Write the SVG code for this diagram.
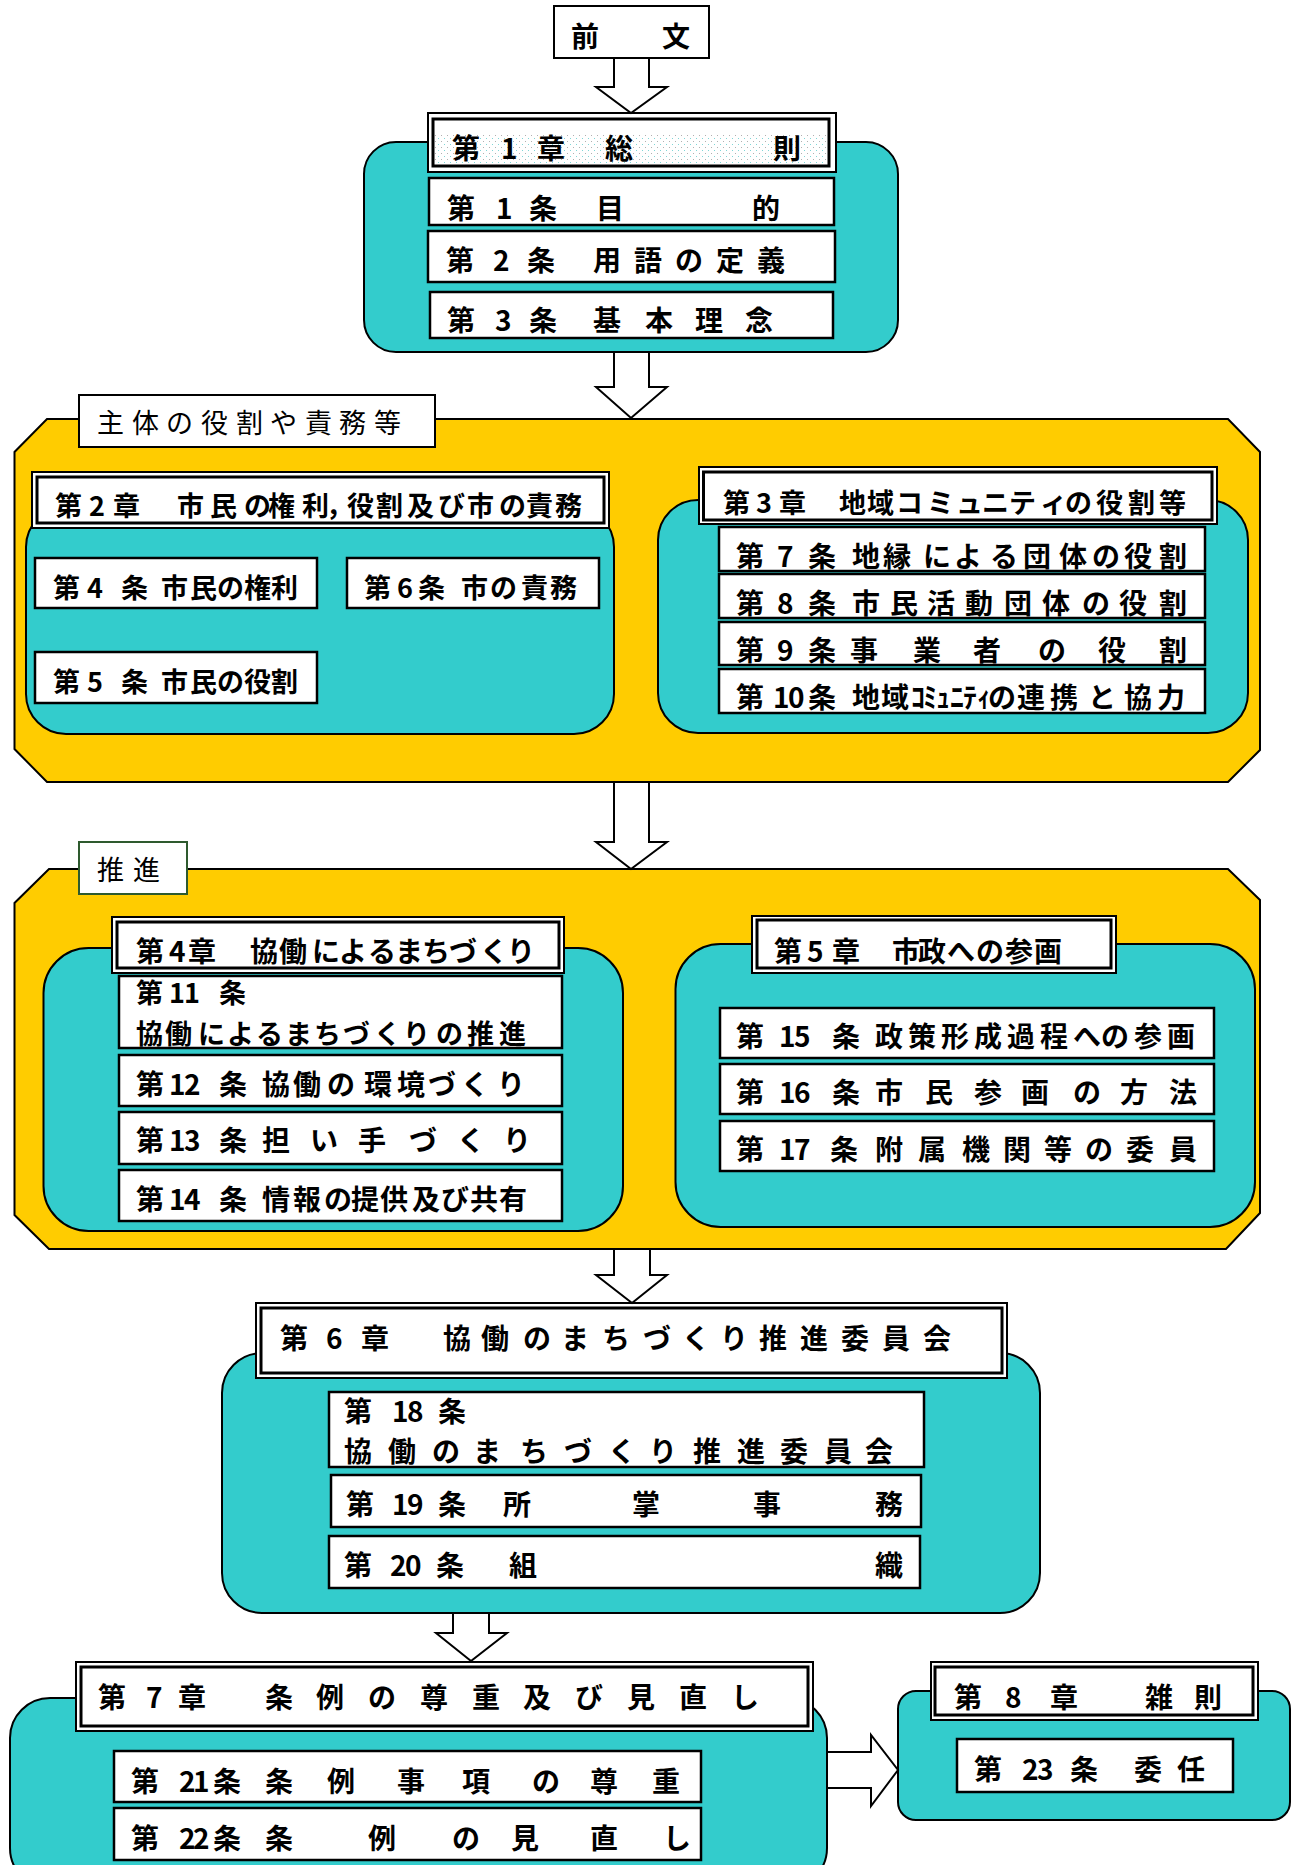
<svg xmlns="http://www.w3.org/2000/svg" width="1295" height="1865" viewBox="0 0 1295 1865">
<style>
.teal{fill:#33CCCC;stroke:#000;stroke-width:2}
.yel{fill:#FFCC00;stroke:#000;stroke-width:2}
.box{fill:#fff;stroke:#000;stroke-width:2.5}
.ho{fill:#fff;stroke:#000;stroke-width:2}
.hi{fill:none;stroke:#000;stroke-width:3}
.lb{fill:#fff;stroke:#000;stroke-width:2}
.arr{fill:#fff;stroke:#000;stroke-width:2}
text{font-family:"Noto Sans CJK JP","Noto Sans CJK SC",sans-serif;fill:#000}
.t{font-weight:700;font-size:28px}
.s{font-weight:700;font-size:27px}
.l{font-weight:400;font-size:27px}
</style>
<defs>
<pattern id="dots" width="6" height="6" patternUnits="userSpaceOnUse">
<rect x="0" y="0" width="1" height="1" fill="#7fd6d6"/>
<rect x="3" y="3" width="1" height="1" fill="#b0b0b0"/>
</pattern>
</defs>
<rect width="1295" height="1865" fill="#fff"/>

<g id="preamble">
<rect class="box" x="554" y="6" width="155" height="52" style="stroke-width:2"/>
<text class="t" x="571 600 662" y="47">前 文</text>
</g>

<g id="chapter1">
<rect class="teal" x="364" y="142" width="534" height="210" rx="32"/>
<g id="ch1-head">
<rect class="ho" x="428" y="113" width="408" height="59"/>
<rect x="434" y="133" width="394" height="31" fill="url(#dots)"/>
<rect class="hi" x="433" y="119" width="396" height="47"/>
<text class="t" x="452 480 501 520 537 570 605 640 773" y="159">第 1 章 総 則</text>
</g>
<g id="art1"><rect class="box" x="429" y="178" width="405" height="47"/>
<text class="t" x="447 476 496 515 529 560 596 625 752" y="219">第 1 条 目 的</text></g>
<g id="art2"><rect class="box" x="428" y="231" width="407" height="51"/>
<text class="t" x="446 475 493 512 527 556 593 622 634 663 675 704 716 745 757" y="271">第 2 条 用 語 の 定 義</text></g>
<g id="art3"><rect class="box" x="430" y="292" width="403" height="46"/>
<text class="t" x="447 476 495 514 529 560 593 622 645 674 695 724 745" y="331">第 3 条 基 本 理 念</text></g>
</g>

<g id="group-roles">
<polygon class="yel" points="47,419 1228,419 1260,452 1260,750 1228,782 47,782 14.5,749 14.5,452"/>
<g id="label-roles">
<rect class="lb" x="79" y="395" width="356" height="52"/>
<text class="l" x="97 132 166 201 236 270 305 339 374" y="433">主体の役割や責務等</text>
</g>
<g id="chapter2">
<rect class="teal" x="26" y="507" width="588" height="227" rx="40"/>
<g id="ch2-head">
<rect class="ho" x="32" y="472" width="577" height="56"/>
<rect class="hi" x="37" y="477" width="567" height="46"/>
<text class="s" x="55 89 113 140 177 210 244 268 302 326 347 376 407 438 467 499 526 555" y="516">第2章 市民の権利，役割及び市の責務</text>
</g>
<g id="art4"><rect class="box" x="35" y="558" width="282" height="50"/>
<text class="s" x="53 80 87 105 121 150 161 190 217 244 271" y="598">第 4 条 市民の権利</text></g>
<g id="art6"><rect class="box" x="347" y="558" width="252" height="50"/>
<text class="s" x="364 397 418 448 461 490 521 550" y="598">第6条 市の責務</text></g>
<g id="art5"><rect class="box" x="35" y="652" width="282" height="51"/>
<text class="s" x="53 80 87 105 121 150 161 190 217 244 271" y="692">第 5 条 市民の役割</text></g>
</g>
<g id="chapter3">
<rect class="teal" x="658" y="500" width="590" height="233" rx="40"/>
<g id="ch3-head">
<rect class="ho" x="699" y="467" width="518" height="57"/>
<rect class="hi" x="703.5" y="472" width="508.5" height="48"/>
<text class="s" x="723 756 779 810 839 867 896 927 956 982 1009 1040 1065 1096 1128 1159" y="513">第3章 地域コミュニティの役割等</text>
</g>
<g id="art7"><rect class="box" x="719" y="527" width="486" height="44"/>
<text class="t" x="736 765 777 795 808 838 852 883 923 954 990 1023 1059 1092 1124 1159" y="567">第 7 条 地縁による団体の役割</text></g>
<g id="art8"><rect class="box" x="719" y="574" width="486" height="44"/>
<text class="t" x="736 765 777 795 808 838 852 890 927 965 1004 1042 1082 1119 1159" y="614">第 8 条 市民活動団体の役割</text></g>
<g id="art9"><rect class="box" x="719" y="622" width="486" height="43"/>
<text class="t" x="736 765 777 795 808 838 850 880 913 945 973 1005 1038 1070 1098 1130 1159" y="661">第 9 条 事 業 者 の 役 割</text></g>
<g id="art10"><rect class="box" x="719" y="669" width="486" height="44"/>
<text class="t" x="736 765 773 788 805 808 838 852 881 911 923 936 950 963 977 988 1017 1050 1088 1124 1157" y="708">第 10 条 地域ｺﾐｭﾆﾃｨの連携と協力</text></g>
</g>
</g>

<g id="group-promotion">
<polygon class="yel" points="49,869 1228,869 1260,900 1260,1213 1226,1249 49,1249 14.5,1215 14.5,903"/>
<g id="label-promotion">
<rect class="lb" x="79" y="842" width="108" height="52" style="stroke:#2e5a2e"/>
<text class="l" x="97 133" y="880">推進</text>
</g>
<g id="chapter4">
<rect class="teal" x="43.5" y="948" width="579.5" height="283" rx="45"/>
<g id="ch4-head">
<rect class="ho" x="112" y="917" width="452" height="56"/>
<rect class="hi" x="117" y="922" width="442" height="46"/>
<text class="t" x="136 169 188 220 250 279 312 339 368 395 422 449 480 507" y="962">第4章 協働によるまちづくり</text>
</g>
<g id="art11"><rect class="box" x="119" y="976" width="443" height="72"/>
<text class="s" x="136 165 169 184 205 219" y="1003">第 11 条</text>
<text class="s" x="136 165 198 227 256 285 314 343 374 403 436 467 499" y="1044">協働によるまちづくりの推進</text></g>
<g id="art12"><rect class="box" x="119" y="1055" width="443" height="51"/>
<text class="t" x="136 165 169 184 205 219 250 262 293 327 364 397 428 461 497" y="1095">第 12 条 協働の環境づくり</text></g>
<g id="art13"><rect class="box" x="119" y="1112" width="443" height="52"/>
<text class="t" x="136 165 169 184 205 219 250 262 295 310 340 358 390 409 440 457 490 503" y="1151">第 13 条 担 い 手 づ く り</text></g>
<g id="art14"><rect class="box" x="119" y="1170" width="443" height="51"/>
<text class="t" x="136 165 169 184 205 219 250 262 293 324 351 380 412 441 470 499" y="1210">第 14 条 情報の提供及び共有</text></g>
</g>
<g id="chapter5">
<rect class="teal" x="675.5" y="944" width="579.5" height="283" rx="45"/>
<g id="ch5-head">
<rect class="ho" x="752" y="916" width="364" height="57"/>
<rect class="hi" x="757" y="920" width="354" height="48"/>
<text class="t" x="774 807 832 865 892 918 947 976 1005 1034" y="962">第5章 市政への参画</text>
</g>
<g id="art15"><rect class="box" x="720" y="1008" width="494" height="50"/>
<text class="t" x="736 765 779 794 820 832 865 875 908 941 974 1007 1040 1073 1101 1134 1167" y="1047">第 15 条 政策形成過程への参画</text></g>
<g id="art16"><rect class="box" x="720" y="1064" width="494" height="50"/>
<text class="t" x="736 765 779 794 820 832 865 875 905 925 955 974 1005 1021 1055 1073 1105 1120 1150 1169" y="1103">第 16 条 市 民 参 画 の 方 法</text></g>
<g id="art17"><rect class="box" x="720" y="1121" width="494" height="50"/>
<text class="t" x="736 765 779 794 820 830 865 875 905 918 950 962 990 1003 1035 1044 1075 1085 1115 1126 1155 1169" y="1160">第 17 条 附 属 機 関 等 の 委 員</text></g>
</g>
</g>

<g id="chapter6">
<rect class="teal" x="222" y="1353" width="818" height="260" rx="40"/>
<g id="ch6-head">
<rect class="ho" x="256" y="1303" width="751" height="75"/>
<rect class="hi" x="261" y="1308" width="741" height="65"/>
<text class="t" x="280 310 326 345 361 400 443 481 523 561 602 643 682 720 759 800 841 882 923" y="1349">第 6 章 協働のまちづくり推進委員会</text>
</g>
<g id="art18"><rect class="box" x="329" y="1392" width="595" height="75"/>
<text class="t" x="344 373 392 407 425 438" y="1422">第 18 条</text>
<text class="t" x="344 388 432 473 520 564 608 649 693 737 780 824 865" y="1462">協働のまちづくり推進委員会</text></g>
<g id="art19"><rect class="box" x="331" y="1475" width="590" height="52"/>
<text class="t" x="346 375 392 407 425 438 470 503 560 632 700 753 820 875" y="1515">第 19 条 所 掌 事 務</text></g>
<g id="art20"><rect class="box" x="329" y="1536" width="591" height="52"/>
<text class="t" x="344 373 390 405 425 436 470 509 600 875" y="1576">第 20 条 組 織</text></g>
</g>

<g id="chapter7">
<rect class="teal" x="10" y="1698" width="817" height="190" rx="40"/>
<g id="ch7-head">
<rect class="ho" x="76" y="1662" width="737" height="69"/>
<rect class="hi" x="81" y="1667" width="727" height="59"/>
<text class="t" x="98 125 146 165 178 220 265 295 316 345 368 395 420 450 472 500 523 550 575 605 627 655 679 710 731" y="1708">第 7 章 条 例 の 尊 重 及 び 見 直 し</text>
</g>
<g id="art21"><rect class="box" x="114" y="1751" width="587" height="51"/>
<text class="t" x="131 160 179 193 205 213 245 265 300 327 360 397 430 462 500 532 565 590 625 652" y="1792">第 21 条 条 例 事 項 の 尊 重</text></g>
<g id="art22"><rect class="box" x="114" y="1808" width="587" height="52"/>
<text class="t" x="131 160 179 193 205 213 245 265 320 368 420 452 490 511 560 590 630 663" y="1849">第 22 条 条 例 の 見 直 し</text></g>
</g>

<g id="chapter8">
<rect class="teal" x="898" y="1691" width="392" height="129" rx="18"/>
<g id="ch8-head">
<rect class="ho" x="931" y="1662" width="327" height="58"/>
<rect class="hi" x="935" y="1667" width="318" height="48"/>
<text class="t" x="954 985 1005 1030 1050 1100 1145 1175 1194" y="1708">第 8 章 雑 則</text>
</g>
<g id="art23"><rect class="box" x="957" y="1739" width="276" height="53"/>
<text class="t" x="974 1005 1022 1037 1060 1070 1110 1134 1165 1177" y="1780">第 23 条 委 任</text></g>
</g>

<g id="connectors">
<polygon class="arr" points="614,58 649,58 649,87 667,87 631,113 596,87 614,87"/>
<polygon class="arr" points="614,352 649,352 649,387 667,387 631,418 596,387 614,387"/>
<polygon class="arr" points="614,782 649,782 649,842 667,842 631,869 596,842 614,842"/>
<polygon class="arr" points="614,1249 650,1249 650,1275 667,1275 632,1303 596,1275 614,1275"/>
<polygon class="arr" points="453,1613 489,1613 489,1633 507,1633 471,1661 436,1633 453,1633"/>
<polygon class="arr" points="827,1752 871,1752 871,1735 898,1770 871,1806 871,1788 827,1788"/>
</g>
</svg>
